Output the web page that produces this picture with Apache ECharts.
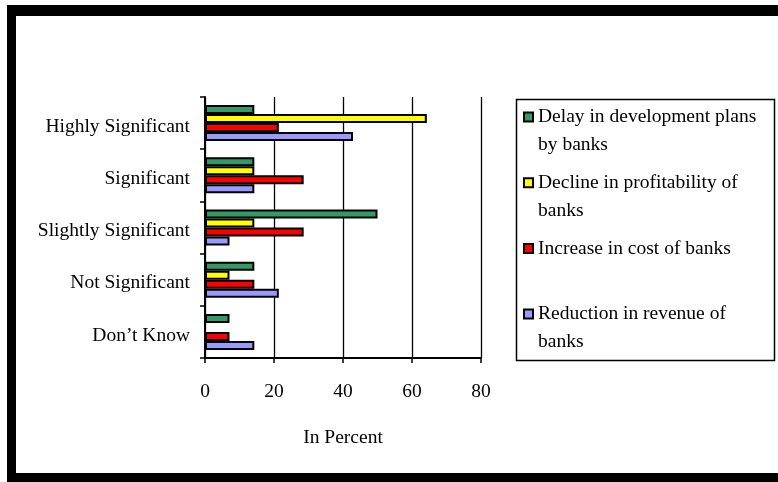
<!DOCTYPE html>
<html>
<head>
<meta charset="utf-8">
<script src="https://cdn.jsdelivr.net/npm/echarts@6/dist/echarts.min.js"></script>
<style>
html,body{margin:0;padding:0;background:#fff;}
#main{width:778px;height:482px;}
</style>
</head>
<body>
<div id="main"></div>
<script>
var categories = ['Highly Significant', 'Significant', 'Slightly Significant', 'Not Significant', 'Don\u2019t Know'];
var seriesNames = ['Delay in development plans\nby banks', 'Decline in profitability of\nbanks', 'Increase in cost of banks', 'Reduction in revenue of\nbanks'];
var delayValues = [14.3, 14.3, 50.0, 14.3, 7.1];
var declineValues = [64.3, 14.3, 14.3, 7.1, 0];
var increaseValues = [21.4, 28.6, 28.6, 14.3, 7.1];
var reductionValues = [42.9, 14.3, 7.1, 21.4, 14.3];
var xTicks = [0, 20, 40, 60, 80];
var xAxisTitle = 'In Percent';

var colors = ['#339966', '#FFFF00', '#FF0000', '#9999FF'];
var values = [delayValues, declineValues, increaseValues, reductionValues];
var FONT = 'Liberation Serif';
var FS = 19.5;

var chart = echarts.init(document.getElementById('main'), null, {renderer: 'canvas'});
var series = seriesNames.map(function (n, i) {
  return {
    name: n,
    type: 'bar',
    data: values[i],
    barGap: '0%',
    barCategoryGap: '31%',
    itemStyle: {color: colors[i], borderColor: '#000', borderWidth: 2},
    emphasis: {disabled: true}
  };
});

chart.setOption({
  backgroundColor: '#fff',
  animation: false,
  textStyle: {fontFamily: FONT, color: '#000'},
  grid: {left: 205, top: 97, width: 276, height: 261, containLabel: false},
  xAxis: {
    type: 'value',
    min: xTicks[0],
    max: xTicks[xTicks.length - 1],
    interval: xTicks[1] - xTicks[0],
    name: xAxisTitle,
    nameLocation: 'middle',
    nameGap: 70,
    nameTextStyle: {fontFamily: FONT, fontSize: FS, color: '#000'},
    axisLine: {show: true, lineStyle: {color: '#000', width: 2}},
    axisTick: {show: true, length: 5, lineStyle: {color: '#000', width: 1.5}},
    axisLabel: {fontFamily: FONT, fontSize: FS, color: '#000', margin: 24},
    splitLine: {show: true, lineStyle: {color: '#000', width: 1.3}}
  },
  yAxis: {
    type: 'category',
    data: categories,
    inverse: true,
    axisLine: {show: true, lineStyle: {color: '#000', width: 2}},
    axisTick: {show: true, length: 5, lineStyle: {color: '#000', width: 1.5}},
    axisLabel: {
      fontFamily: FONT, fontSize: FS, color: '#000', margin: 15,
      formatter: function (v) { return '{c|' + v + '}'; },
      rich: {c: {fontFamily: FONT, fontSize: FS, color: '#000', padding: [7, 0, 0, 0]}}
    },
    splitLine: {show: false}
  },
  legend: {
    orient: 'vertical',
    left: 523,
    top: 75,
    padding: 0,
    itemGap: -18.3,
    itemWidth: 9,
    itemHeight: 9,
    icon: 'rect',
    selectedMode: false,
    formatter: function (name) {
      return ' \n' + (name.indexOf('\n') >= 0 ? name : name + '\n ');
    },
    textStyle: {fontFamily: FONT, fontSize: FS, color: '#000', lineHeight: 28}
  },
  graphic: [
    {type: 'rect', left: 514, top: 97, shape: {width: 258, height: 261}, style: {fill: 'none', stroke: '#000', lineWidth: 1.5}, z: 0},
    {type: 'rect', left: 7, top: 5, shape: {width: 771, height: 11}, style: {fill: '#000'}},
    {type: 'rect', left: 7, top: 5, shape: {width: 9, height: 477}, style: {fill: '#000'}},
    {type: 'rect', left: 7, top: 473, shape: {width: 771, height: 9}, style: {fill: '#000'}}
  ],
  series: series
});
</script>
</body>
</html>
